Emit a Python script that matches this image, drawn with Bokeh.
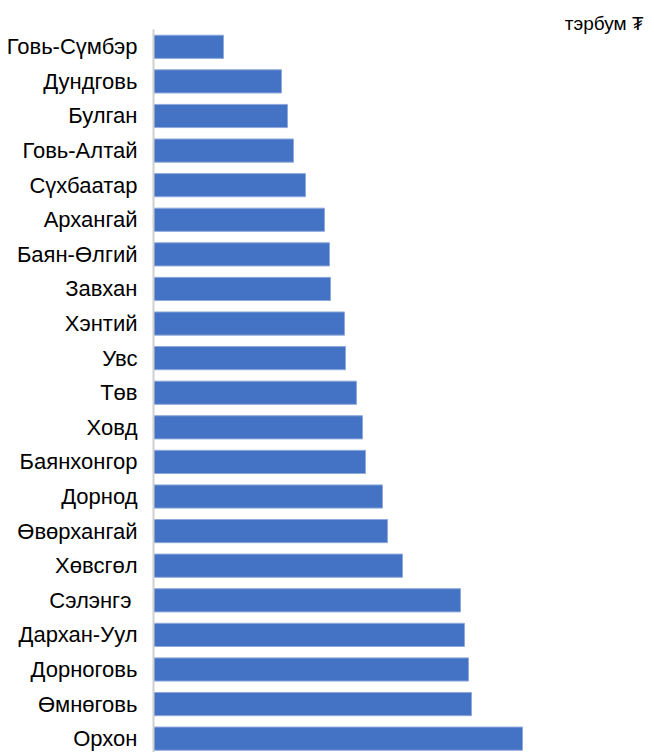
from bokeh.plotting import figure
from bokeh.models import Range1d, FixedTicker
from bokeh.embed import file_html
from bokeh.resources import INLINE

aimags = ["Говь-Сүмбэр", "Дундговь", "Булган", "Говь-Алтай", "Сүхбаатар", "Архангай",
          "Баян-Өлгий", "Завхан", "Хэнтий", "Увс", "Төв", "Ховд", "Баянхонгор", "Дорнод",
          "Өвөрхангай", "Хөвсгөл", "Сэлэнгэ ", "Дархан-Уул", "Дорноговь", "Өмнөговь", "Орхон"]
values = [70, 128, 134, 140, 152, 171, 176, 177, 191, 192, 203, 209, 212, 229, 234, 249,
          307, 311, 315, 318, 369]
unit_label = "тэрбум ₮"

pos = list(range(len(aimags)))

p = figure(width=654, height=752, output_backend="svg", toolbar_location=None,
           x_range=Range1d(0, 490), y_range=Range1d(20.40, -0.5),
           min_border_left=153, min_border_right=11, min_border_top=29, min_border_bottom=0,
           title=unit_label)

p.title.align = "right"
p.title.text_font = "Liberation Sans"
p.title.text_font_size = "19px"
p.title.text_font_style = "normal"
p.title.text_color = "#000000"
p.title.standoff = -9

p.hbar(y=pos, left=0, right=values, height=0.67, fill_color="#4472C4",
       line_color="#8EA9DB", line_width=1)

p.xaxis.visible = False
p.xgrid.visible = False
p.ygrid.visible = False
p.outline_line_color = None

ax = p.yaxis[0]
ax.ticker = FixedTicker(ticks=pos)
ax.major_label_overrides = {i: n for i, n in enumerate(aimags)}
ax.major_tick_line_color = None
ax.minor_tick_line_color = None
ax.major_tick_out = 0
ax.major_tick_in = 0
ax.axis_line_color = "#d0d0d0"
ax.axis_line_width = 2
ax.major_label_standoff = 16
ax.major_label_text_font = "Liberation Sans"
ax.major_label_text_font_size = "22px"
ax.major_label_text_color = "#000000"

open("out.html", "w").write(file_html(p, INLINE))
